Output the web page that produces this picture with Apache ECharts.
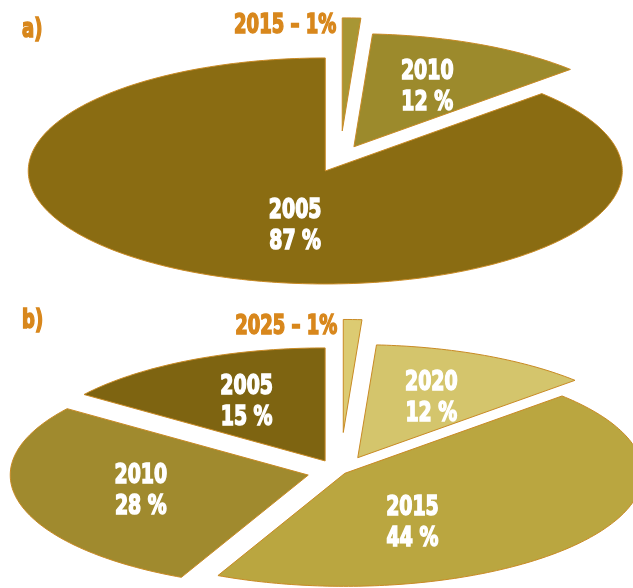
<!DOCTYPE html>
<html>
<head>
<meta charset="utf-8">
<script src="https://cdn.jsdelivr.net/npm/echarts@6/dist/echarts.min.js"></script>
<style>
  html, body { margin: 0; padding: 0; background: #ffffff; }
  #chart { width: 633px; height: 588px; }
</style>
</head>
<body>
<div id="chart"></div>
<script>
// Shares by year, panel a)
const yearsA = ['2005', '2010', '2015'];
const sharesA = [87, 12, 1];

// Shares by year, panel b)
const yearsB = ['2005', '2010', '2015', '2020', '2025'];
const sharesB = [15, 28, 44, 12, 1];

const panelNames = ['a)', 'b)'];

const FONT = "'DejaVu Sans Condensed', 'Liberation Sans Narrow', sans-serif";
const ORANGE = '#d8871c';
const EDGE = '#c98a24';
const TALL = 1.3; // vertical stretch for the condensed label type

// Flattened (elliptical) pie drawn as a custom series.
// Slices run counter-clockwise from 12 o'clock; each one is pulled out
// along its bisector by a fraction of the radius.
function ellipsePie(years, shares, opt) {
  const total = shares.reduce((s, v) => s + v, 0);
  const starts = [];
  let acc = 0;
  shares.forEach(v => { starts.push(acc); acc += v; });
  const dir = a => [-Math.sin(a), -Math.cos(a)];

  return {
    type: 'custom',
    coordinateSystem: 'none',
    silent: true,
    data: shares.map((v, i) => ({ name: years[i], value: v })),
    renderItem(params, api) {
      const i = params.dataIndex;
      const v = api.value(0);
      const a0 = starts[i] / total * 2 * Math.PI;
      const a1 = (starts[i] + v) / total * 2 * Math.PI;
      const am = (a0 + a1) / 2;
      const pull = opt.explode[i];
      const cx = opt.cx + opt.rx * pull * dir(am)[0];
      const cy = opt.cy + opt.ry * pull * dir(am)[1];

      const pts = [[cx, cy]];
      const steps = Math.max(2, Math.ceil((a1 - a0) / (Math.PI / 180)));
      for (let k = 0; k <= steps; k++) {
        const a = a0 + (a1 - a0) * k / steps;
        const d = dir(a);
        pts.push([cx + opt.rx * d[0], cy + opt.ry * d[1]]);
      }

      const children = [{
        type: 'polygon',
        shape: { points: pts },
        style: { fill: opt.colors[i], stroke: EDGE, lineWidth: 1 }
      }];

      const pct = v / total * 100;
      if (pct < 5) {
        // thin slice: label sits outside, left of its tip
        children.push({
          type: 'text',
          z2: 10,
          x: cx - 6,
          y: cy - opt.ry + 8,
          scaleY: TALL,
          style: {
            text: years[i] + ' – ' + v + '%',
            fill: ORANGE,
            stroke: ORANGE,
            lineWidth: 1.2,
            font: 'bold 20px ' + FONT,
            align: 'right',
            verticalAlign: 'middle'
          }
        });
      } else {
        let la = am, r = 0.58;
        if (pct > 40) { la = (am + Math.PI) / 2; r = 0.5; }
        const d = dir(la);
        children.push({
          type: 'text',
          z2: 10,
          x: cx + opt.rx * r * d[0],
          y: cy + opt.ry * r * d[1],
          scaleY: TALL,
          style: {
            text: years[i] + '\n' + v + ' %',
            fill: '#ffffff',
            stroke: '#ffffff',
            lineWidth: 1.2,
            font: 'bold 21px ' + FONT,
            lineHeight: 24,
            align: 'center',
            verticalAlign: 'middle'
          }
        });
      }
      return { type: 'group', children };
    }
  };
}

const chart = echarts.init(document.getElementById('chart'), null, { renderer: 'canvas' });

chart.setOption({
  backgroundColor: '#ffffff',
  animation: false,
  graphic: panelNames.map((t, k) => ({
    type: 'text',
    x: 22,
    y: k === 0 ? 30 : 321,
    scaleY: TALL,
    style: {
      text: t,
      fill: ORANGE,
      stroke: ORANGE,
      lineWidth: 1.2,
      font: 'bold 20px ' + FONT,
      align: 'left',
      verticalAlign: 'middle'
    }
  })),
  series: [
    ellipsePie(yearsA, sharesA, {
      cx: 340, cy: 158, rx: 297, ry: 113,
      explode: [0.125, 0.11, 0.24],
      colors: ['#8a6c12', '#9c8a2c', '#a89634']
    }),
    ellipsePie(yearsB, sharesB, {
      cx: 340, cy: 472, rx: 298, ry: 113,
      explode: [0.11, 0.11, 0.02, 0.14, 0.35],
      colors: ['#7e6411', '#a08a2e', '#baa640', '#d4c56c', '#dccb72']
    })
  ]
});
</script>
</body>
</html>
